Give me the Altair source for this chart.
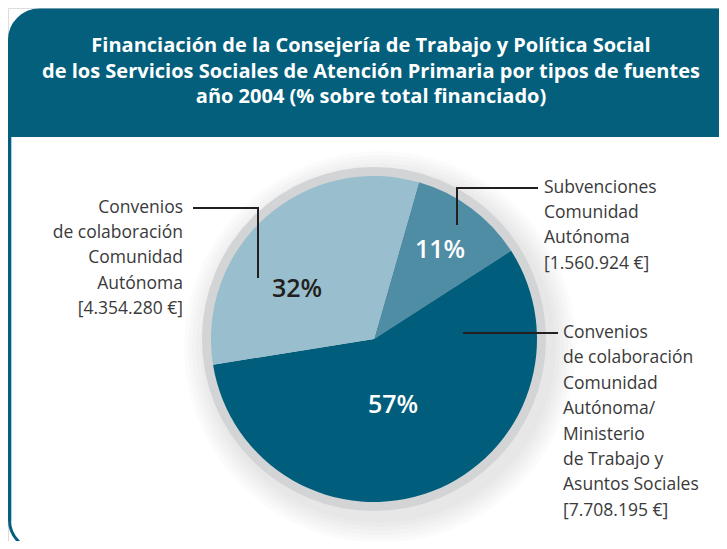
import altair as alt
import pandas as pd
import math

# ---------------- data ----------------
categories = [
    "Subvenciones Comunidad Autónoma",
    "Convenios CA / Ministerio de Trabajo y Asuntos Sociales",
    "Convenios de colaboración Comunidad Autónoma",
]
amounts = [1560924, 7708195, 4354280]
pct_labels = ["11%", "57%", "32%"]
slice_colors = ["#4F8DA5", "#005E7C", "#99BECD"]
pct_text_colors = ["#FFFFFF", "#FFFFFF", "#231F20"]

title_lines = [
    "Financiación de la Consejería de Trabajo y Política Social",
    "de los Servicios Sociales de Atención Primaria por tipos de fuentes",
    "año 2004 (% sobre total financiado)",
]
label_left = ["Convenios", "de colaboración", "Comunidad", "Autónoma", "[4.354.280 €]"]
label_top_right = ["Subvenciones", "Comunidad", "Autónoma", "[1.560.924 €]"]
label_bottom_right = ["Convenios", "de colaboración", "Comunidad", "Autónoma/",
                      "Ministerio", "de Trabajo y", "Asuntos Sociales", "[7.708.195 €]"]

# ---------------- layout (pixels, chart coords) ----------------
W, H = 711, 533
CX, CY = 366, 331
R_PIE, R_RING = 163, 172
START = math.radians(16)
TEAL = "#035F7C"
INK = "#231F20"
GREY_TXT = "#3A3A3A"

pie_df = pd.DataFrame({
    "cat": categories, "amount": amounts, "ord": [0, 1, 2], "pct": pct_labels,
})
one = pd.DataFrame({"a": [0]})

# frame
frame = alt.Chart(one).mark_rect(
    fill="white", stroke=TEAL, strokeWidth=3, cornerRadius=30
).encode(x=alt.value(1.5), x2=alt.value(W + 30), y=alt.value(2), y2=alt.value(H + 9))

header = alt.Chart(one).mark_rect(
    fill=TEAL, cornerRadiusTopLeft=36
).encode(x=alt.value(0), x2=alt.value(W + 20), y=alt.value(1), y2=alt.value(129))

inner_line = alt.Chart(one).mark_rule(
    color="#A9CFE0", strokeWidth=1
).encode(x=alt.value(3.5), y=alt.value(129), y2=alt.value(H - 20))

title_df = pd.DataFrame({"t": title_lines, "py": [43.5, 69.5, 95]})
title = alt.Chart(title_df).mark_text(
    font="Open Sans", fontWeight="bold", fontSize=20, color="white",
    align="center", baseline="alphabetic"
).encode(
    x=alt.value(363),
    y=alt.Y("py:Q", scale=None),
    text="t:N",
)

# soft shadow + ring
shadow_layers = []
for r in [196, 192, 188, 184, 180, 176]:
    shadow_layers.append(
        alt.Chart(one).mark_arc(
            theta=2 * math.pi, outerRadius=r, fill="#000000", fillOpacity=0.016
        ).encode(x=alt.value(CX + 6), y=alt.value(CY + 8))
    )
ring = alt.Chart(one).mark_arc(
    theta=2 * math.pi, outerRadius=R_RING, fill="#D2D4D5"
).encode(x=alt.value(CX), y=alt.value(CY))

pie = alt.Chart(pie_df).mark_arc(outerRadius=R_PIE).encode(
    theta=alt.Theta("amount:Q", stack=True,
                    scale=alt.Scale(range=[START, START + 2 * math.pi])),
    order=alt.Order("ord:Q"),
    color=alt.Color("cat:N", scale=alt.Scale(domain=categories, range=slice_colors), legend=None),
    x=alt.value(CX), y=alt.value(CY),
)

# percentage labels
pct_pos = pd.DataFrame({
    "pct": pct_labels,
    "px": [432, 385, 289],
    "py": [242, 397, 281],
    "col": pct_text_colors,
})
pct_text = alt.Chart(pct_pos).mark_text(
    font="Open Sans", fontWeight=600, fontSize=25, baseline="middle", align="center"
).encode(
    x=alt.X("px:Q", scale=None), y=alt.Y("py:Q", scale=None),
    text="pct:N", color=alt.Color("col:N", scale=None),
)

# leader lines
leaders = pd.DataFrame({
    "x": [186, 250, 449, 449, 456],
    "x2": [250, 250, 529, 449, 549],
    "y": [200, 200, 180, 180, 325],
    "y2": [200, 269, 180, 216, 325],
})
leader_rules = alt.Chart(leaders).mark_rule(color=INK, strokeWidth=2, strokeCap="square").encode(
    x=alt.X("x:Q", scale=None), x2="x2:Q", y=alt.Y("y:Q", scale=None), y2="y2:Q"
)

def label_block(lines, x, y0, dy, align):
    df = pd.DataFrame({"t": lines, "py": [y0 + i * dy for i in range(len(lines))]})
    return alt.Chart(df).mark_text(
        font="Open Sans", fontSize=17.5, color=GREY_TXT, align=align, baseline="middle"
    ).encode(x=alt.value(x), y=alt.Y("py:Q", scale=None), text="t:N")

lbl_left = label_block(label_left, 175, 200, 25.2, "right")
lbl_tr = label_block(label_top_right, 536, 180, 25.2, "left")
lbl_br = label_block(label_bottom_right, 555, 325, 25.4, "left")

chart = alt.layer(
    frame, header, inner_line, title, *shadow_layers, ring, pie,
    pct_text, leader_rules, lbl_left, lbl_tr, lbl_br,
).resolve_scale(color="independent").properties(
    width=W, height=H, padding=0,
    autosize=alt.AutoSizeParams(type="none"),
).configure_view(stroke=None).configure(background="white")

chart.save("out.html", embed_options={"renderer": "svg", "actions": False})
